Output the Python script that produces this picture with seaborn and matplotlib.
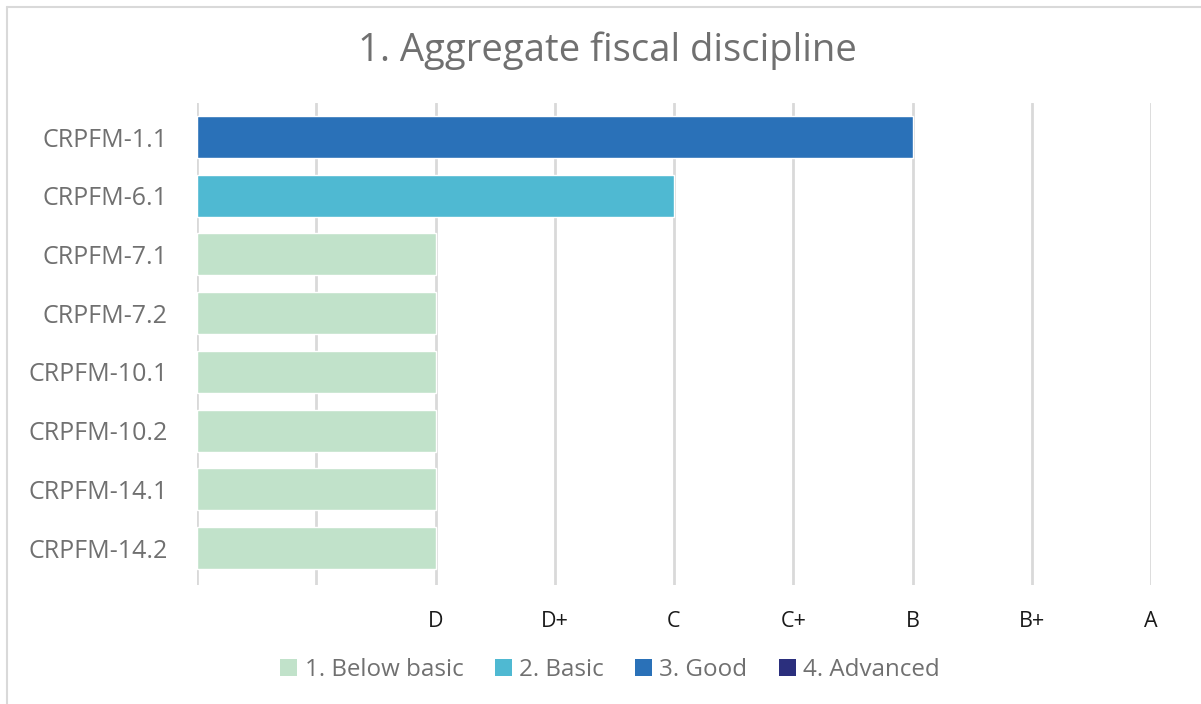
import matplotlib
matplotlib.use("Agg")
import matplotlib.pyplot as plt
from matplotlib.patches import Patch
from matplotlib.lines import Line2D
import seaborn as sns
import pandas as pd

# Indicator scores on the grade scale (0..8, where 2 = D ... 8 = A)
indicators = ["CRPFM-1.1", "CRPFM-6.1", "CRPFM-7.1", "CRPFM-7.2",
              "CRPFM-10.1", "CRPFM-10.2", "CRPFM-14.1", "CRPFM-14.2"]
scores = [6, 4, 2, 2, 2, 2, 2, 2]
levels = ["3. Good", "2. Basic", "1. Below basic", "1. Below basic",
          "1. Below basic", "1. Below basic", "1. Below basic", "1. Below basic"]

grade_ticks = [0, 1, 2, 3, 4, 5, 6, 7, 8]
grade_labels = ["", "", "D", "D+", "C", "C+", "B", "B+", "A"]

level_order = ["1. Below basic", "2. Basic", "3. Good", "4. Advanced"]
level_colors = ["#c1e2ca", "#4fb9d2", "#2a71b8", "#2b2f7d"]
palette = dict(zip(level_order, level_colors))

df = pd.DataFrame({"indicator": indicators, "score": scores, "level": levels})

sns.set_theme(style="white")
plt.rcParams["font.family"] = ["Open Sans", "DejaVu Sans"]

fig = plt.figure(figsize=(12.01, 7.04), dpi=100)
ax = fig.add_axes([197 / 1201, 1 - 585 / 704, (1151 - 197) / 1201, (585 - 103) / 704])

sns.barplot(data=df, x="score", y="indicator", hue="level", hue_order=level_order,
            palette=palette, dodge=False, orient="h", width=0.715,
            saturation=1, legend=False, ax=ax, zorder=3)

ax.set_xlim(0, 8)
ax.set_ylim(7.63, -0.58)
ax.set_xticks(grade_ticks)
ax.set_xticklabels(grade_labels)
ax.xaxis.grid(True, color="#d9d9d9", linewidth=2, zorder=0)
ax.yaxis.grid(False)
for s in ax.spines.values():
    s.set_visible(False)
ax.set_xlabel("")
ax.set_ylabel("")
ax.tick_params(axis="x", length=0, pad=19, labelsize=15.5, labelcolor="#1a1a1a")
ax.tick_params(axis="y", length=0, pad=21, labelsize=18, labelcolor="#707070")

fig.text(0.506, 1 - 51 / 704, "1. Aggregate fiscal discipline", ha="center", va="center",
         fontsize=27.5, color="#707070")

handles = [Patch(facecolor=c, edgecolor="none", label=l) for l, c in zip(level_order, level_colors)]
fig.legend(handles=handles, loc="center", bbox_to_anchor=(0.508, 1 - 670 / 704), ncol=4,
           frameon=False, fontsize=17.4, labelcolor="#707070", handlelength=0.7,
           handleheight=0.7, handletextpad=0.3, columnspacing=1.3)

# Chart frame
fig.add_artist(Line2D([7 / 1201, 7 / 1201], [0, 1 - 7 / 704], transform=fig.transFigure,
                      color="#d9d9d9", linewidth=1.5))
fig.add_artist(Line2D([7 / 1201, 1], [1 - 7 / 704, 1 - 7 / 704], transform=fig.transFigure,
                      color="#d9d9d9", linewidth=1.5))

fig.savefig("out.png", dpi=100)
